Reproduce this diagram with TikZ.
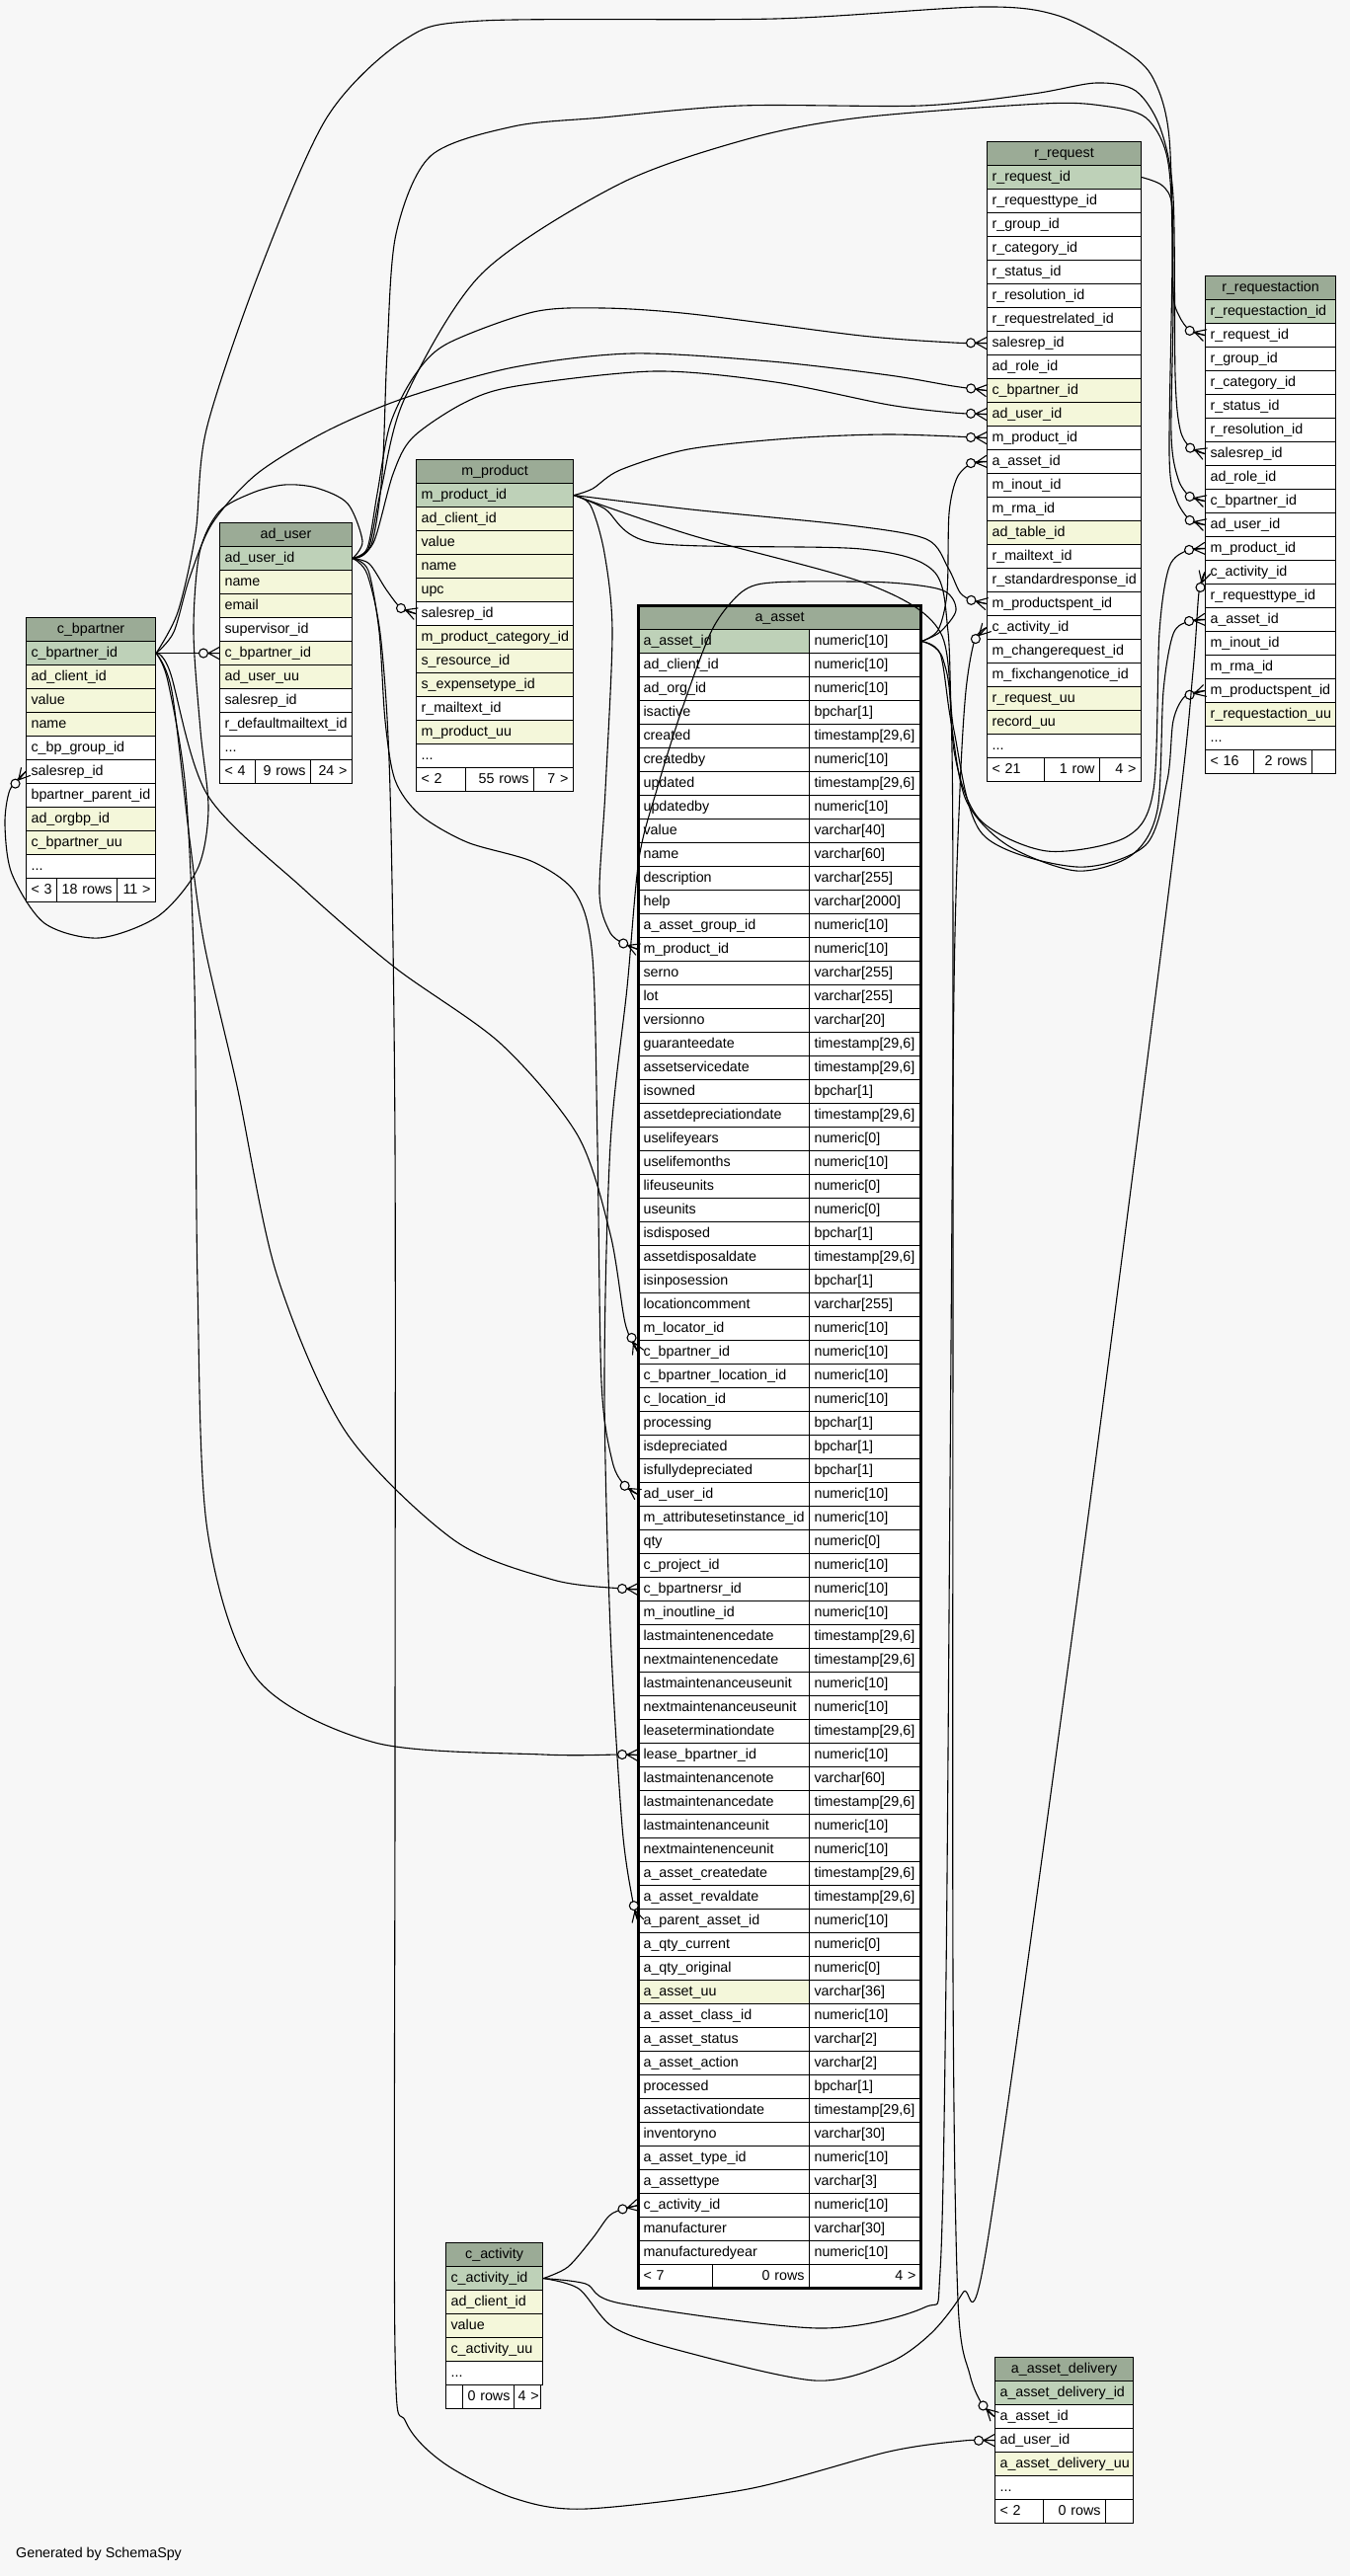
\documentclass[tikz,border=0pt]{standalone}
\usepackage{fontspec}
\setmainfont{Liberation Sans}
\usetikzlibrary{calc}
\definecolor{hdr}{HTML}{9BAB96}
\definecolor{pk}{HTML}{BED1B8}
\definecolor{idx}{HTML}{F4F7DA}
\definecolor{wh}{HTML}{FFFFFF}
\definecolor{bgc}{HTML}{F7F7F7}
\newcommand\tdots{...}
\newcommand\mktbl[6]{%
  \node[hcell, text width=#4pt] (#1h) at (#2,#3) {#5};
  \foreach \tx/\cl [count=\ri] in {#6}{%
    \node[cell, fill=\cl, text width=#4pt] (#1\ri) at (#2,{#3+24*\ri}) {\tx};}%
}
\newcommand\crowat[2]{%
  \draw[line width=1.1pt, line cap=round]
    ($(#1)!11pt!(#2)$) -- ($(#1)!6pt!90:(#2)$)
    ($(#1)!11pt!(#2)$) -- ($(#1)!6pt!-90:(#2)$)
    ($(#1)!11pt!(#2)$) -- (#1);
  \draw[line width=1.1pt, fill=bgc] ($(#1)!16pt!(#2)$) circle[radius=4.5pt];%
}
\tikzset{
  cell/.style={draw=black, line width=1.1pt, anchor=north west, inner xsep=5pt, inner ysep=0pt, minimum height=24pt, text height=10.5pt, text depth=3pt, font=\fontsize{14.3}{16}\selectfont, align=left},
  hcell/.style={cell, align=center, fill=hdr},
  lcell/.style={cell, fill=wh},
  rcell/.style={cell, align=right, fill=wh},
  edge/.style={line width=1.1pt, draw=black, line join=round}
}
\begin{document}
\begin{tikzpicture}[x=1pt,y=-1pt]
\useasboundingbox (0,0) rectangle (1367,2609);
\fill[bgc] (0,0) rectangle (1367,2609);

% c_bpartner
\mktbl{bp}{26}{625}{121}{c\_bpartner}{c\_bpartner\_id/pk, ad\_client\_id/idx, value/idx, name/idx, c\_bp\_group\_id/wh, salesrep\_id/wh, bpartner\_parent\_id/wh, ad\_orgbp\_id/idx, c\_bpartner\_uu/idx, \tdots/wh}
\node[lcell, text width=21pt] (bpf1) at (26,889) {\mbox{< 3}};
\node[rcell, text width=51pt] (bpf2) at (57,889) {\mbox{18 rows}};
\node[rcell, text width=29pt] (bpf3) at (118,889) {\mbox{11 >}};

% ad_user
\mktbl{au}{222}{529}{124}{ad\_user}{ad\_user\_id/pk, name/idx, email/idx, supervisor\_id/wh, c\_bpartner\_id/idx, ad\_user\_uu/idx, salesrep\_id/wh, r\_defaultmailtext\_id/wh, \tdots/wh}
\node[lcell, text width=26pt] (auf1) at (222,769) {\mbox{< 4}};
\node[rcell, text width=46pt] (auf2) at (258,769) {\mbox{9 rows}};
\node[rcell, text width=32pt] (auf3) at (314,769) {\mbox{24 >}};

% m_product
\mktbl{mp}{421}{465}{149}{m\_product}{m\_product\_id/pk, ad\_client\_id/idx, value/idx, name/idx, upc/idx, salesrep\_id/wh, m\_product\_category\_id/idx, s\_resource\_id/idx, s\_expensetype\_id/idx, r\_mailtext\_id/wh, m\_product\_uu/idx, \tdots/wh}
\node[lcell, text width=40pt] (mpf1) at (421,777) {\mbox{< 2}};
\node[rcell, text width=59pt] (mpf2) at (471,777) {\mbox{55 rows}};
\node[rcell, text width=30pt] (mpf3) at (540,777) {\mbox{7 >}};

% r_request
\mktbl{rr}{999}{143}{146}{r\_request}{r\_request\_id/pk, r\_requesttype\_id/wh, r\_group\_id/wh, r\_category\_id/wh, r\_status\_id/wh, r\_resolution\_id/wh, r\_requestrelated\_id/wh, salesrep\_id/wh, ad\_role\_id/wh, c\_bpartner\_id/idx, ad\_user\_id/idx, m\_product\_id/wh, a\_asset\_id/wh, m\_inout\_id/wh, m\_rma\_id/wh, ad\_table\_id/idx, r\_mailtext\_id/wh, r\_standardresponse\_id/wh, m\_productspent\_id/wh, c\_activity\_id/wh, m\_changerequest\_id/wh, m\_fixchangenotice\_id/wh, r\_request\_uu/idx, record\_uu/idx, \tdots/wh}
\node[lcell, text width=48pt] (rrf1) at (999,767) {\mbox{< 21}};
\node[rcell, text width=46pt] (rrf2) at (1057,767) {\mbox{1 row}};
\node[rcell, text width=32pt] (rrf3) at (1113,767) {\mbox{4 >}};

% r_requestaction
\mktbl{ra}{1220}{279}{122}{r\_requestaction}{r\_requestaction\_id/pk, r\_request\_id/wh, r\_group\_id/wh, r\_category\_id/wh, r\_status\_id/wh, r\_resolution\_id/wh, salesrep\_id/wh, ad\_role\_id/wh, c\_bpartner\_id/wh, ad\_user\_id/wh, m\_product\_id/wh, c\_activity\_id/wh, r\_requesttype\_id/wh, a\_asset\_id/wh, m\_inout\_id/wh, m\_rma\_id/wh, m\_productspent\_id/wh, r\_requestaction\_uu/idx, \tdots/wh}
\node[lcell, text width=39pt] (raf1) at (1220,759) {\mbox{< 16}};
\node[rcell, text width=49pt] (raf2) at (1269,759) {\mbox{2 rows}};
\node[rcell, text width=14pt] (raf3) at (1328,759) {};

% c_activity
\mktbl{ca}{451}{2271}{88}{c\_activity}{c\_activity\_id/pk, ad\_client\_id/idx, value/idx, c\_activity\_uu/idx, \tdots/wh}
\node[lcell, text width=7pt] (caf1) at (451,2415) {};
\node[rcell, text width=42pt] (caf2) at (468,2415) {\mbox{0 rows}};
\node[rcell, text width=19pt, inner xsep=4pt] (caf3) at (520,2415) {\mbox{4 >}};

% a_asset_delivery
\mktbl{ad}{1007}{2387}{130}{a\_asset\_delivery}{a\_asset\_delivery\_id/pk, a\_asset\_id/wh, ad\_user\_id/wh, a\_asset\_delivery\_uu/idx, \tdots/wh}
\node[lcell, text width=39pt] (adf1) at (1007,2531) {\mbox{< 2}};
\node[rcell, text width=53pt] (adf2) at (1056,2531) {\mbox{0 rows}};
\node[rcell, text width=18pt] (adf3) at (1119,2531) {};

% a_asset
\node[hcell, text width=276pt] (aah) at (646,613) {a\_asset};
\foreach \nm/\ty/\cl [count=\ri] in {
a\_asset\_id/numeric[10]/pk,
ad\_client\_id/numeric[10]/wh,
ad\_org\_id/numeric[10]/wh,
isactive/bpchar[1]/wh,
created/{timestamp[29,6]}/wh,
createdby/numeric[10]/wh,
updated/{timestamp[29,6]}/wh,
updatedby/numeric[10]/wh,
value/varchar[40]/wh,
name/varchar[60]/wh,
description/varchar[255]/wh,
help/varchar[2000]/wh,
a\_asset\_group\_id/numeric[10]/wh,
m\_product\_id/numeric[10]/wh,
serno/varchar[255]/wh,
lot/varchar[255]/wh,
versionno/varchar[20]/wh,
guaranteedate/{timestamp[29,6]}/wh,
assetservicedate/{timestamp[29,6]}/wh,
isowned/bpchar[1]/wh,
assetdepreciationdate/{timestamp[29,6]}/wh,
uselifeyears/numeric[0]/wh,
uselifemonths/numeric[10]/wh,
lifeuseunits/numeric[0]/wh,
useunits/numeric[0]/wh,
isdisposed/bpchar[1]/wh,
assetdisposaldate/{timestamp[29,6]}/wh,
isinposession/bpchar[1]/wh,
locationcomment/varchar[255]/wh,
m\_locator\_id/numeric[10]/wh,
c\_bpartner\_id/numeric[10]/wh,
c\_bpartner\_location\_id/numeric[10]/wh,
c\_location\_id/numeric[10]/wh,
processing/bpchar[1]/wh,
isdepreciated/bpchar[1]/wh,
isfullydepreciated/bpchar[1]/wh,
ad\_user\_id/numeric[10]/wh,
m\_attributesetinstance\_id/numeric[10]/wh,
qty/numeric[0]/wh,
c\_project\_id/numeric[10]/wh,
c\_bpartnersr\_id/numeric[10]/wh,
m\_inoutline\_id/numeric[10]/wh,
lastmaintenencedate/{timestamp[29,6]}/wh,
nextmaintenencedate/{timestamp[29,6]}/wh,
lastmaintenanceuseunit/numeric[10]/wh,
nextmaintenanceuseunit/numeric[10]/wh,
leaseterminationdate/{timestamp[29,6]}/wh,
lease\_bpartner\_id/numeric[10]/wh,
lastmaintenancenote/varchar[60]/wh,
lastmaintenancedate/{timestamp[29,6]}/wh,
lastmaintenanceunit/numeric[10]/wh,
nextmaintenenceunit/numeric[10]/wh,
a\_asset\_createdate/{timestamp[29,6]}/wh,
a\_asset\_revaldate/{timestamp[29,6]}/wh,
a\_parent\_asset\_id/numeric[10]/wh,
a\_qty\_current/numeric[0]/wh,
a\_qty\_original/numeric[0]/wh,
a\_asset\_uu/varchar[36]/idx,
a\_asset\_class\_id/numeric[10]/wh,
a\_asset\_status/varchar[2]/wh,
a\_asset\_action/varchar[2]/wh,
processed/bpchar[1]/wh,
assetactivationdate/{timestamp[29,6]}/wh,
inventoryno/varchar[30]/wh,
a\_asset\_type\_id/numeric[10]/wh,
a\_assettype/varchar[3]/wh,
c\_activity\_id/numeric[10]/wh,
manufacturer/varchar[30]/wh,
manufacturedyear/numeric[10]/wh}{%
  \node[cell, fill=\cl, text width=163pt] (aa\ri) at (646,{613+24*\ri}) {\nm};
  \node[cell, fill=wh, text width=103pt] (at\ri) at (819,{613+24*\ri}) {\ty};
}
\node[lcell, text width=65pt] (aaf1) at (646,2293) {\mbox{< 7}};
\node[rcell, text width=88pt] (aaf2) at (721,2293) {\mbox{0 rows}};
\node[rcell, text width=103pt] (aaf3) at (819,2293) {\mbox{4 >}};
\draw[line width=3pt] (646,613) rectangle (932,2317);

\node[anchor=west, inner sep=0pt, font=\fontsize{14.3}{16}\selectfont] (gen) at (16,2587) {Generated by SchemaSpy};

% ---------- connectors ----------
\draw[edge] (bp1.east) -- (au5.west); \crowat{au5.west}{bp1.east}
\draw[edge] plot[smooth] coordinates {(au1.east) (367,548) (352,510) (320,494) (288,491) (256,499) (222,518) (202,560) (196,640) (203,740) (211,820) (200,880) (160,928) (100,950) (45,935) (12,885) (5,835) (10,800) (bp6.west)}; \crowat{bp6.west}{10,800}
\draw[edge] plot[smooth] coordinates {(bp1.east) (176,640) (192,585) (215,530) (260,480) (330,437) (410,403) (520,372) (640,358) (780,366) (900,380) (965,391) (rr10.west)}; \crowat{rr10.west}{965,391}
\draw[edge] plot[smooth] coordinates {(bp1.east) (180,620) (198,540) (209,435) (262,277) (331,119) (410,40) (488,21) (785,19) (994,7) (1072,16) (1140,52) (1168,80) (1184,140) (1188,300) (1186,440) (1193,485) (1205,503) (ra9.west)}; \crowat{ra9.west}{1205,503}
\draw[edge] plot[smooth] coordinates {(au1.east) (376,552) (387,480) (392,356) (401,237) (436,158) (520,128) (610,119) (750,107) (933,107) (1046,95) (1110,84) (1150,92) (1175,130) (1188,200) (1190,380) (1195,435) (1206,454) (ra7.west)}; \crowat{ra7.west}{1206,454}
\draw[edge] plot[smooth] coordinates {(au1.east) (373,556) (386,495) (410,403) (488,277) (628,186) (760,140) (872,119) (1055,105) (1116,107) (1160,119) (1182,160) (1187,250) (1184,460) (1191,505) (1205,527) (ra10.west)}; \crowat{ra10.west}{1205,527}
\draw[edge] plot[smooth] coordinates {(au1.east) (372,555) (382,500) (395,430) (420,380) (453,348) (540,316) (610,312) (700,318) (872,340) (965,347) (rr8.west)}; \crowat{rr8.west}{965,347}
\draw[edge] plot[smooth] coordinates {(au1.east) (378,550) (398,480) (418,443) (470,408) (523,391) (663,376) (785,387) (900,410) (965,418) (rr11.west)}; \crowat{rr11.west}{965,418}
\draw[edge] plot[smooth] coordinates {(au1.east) (374,571) (391,597) (406,616) (mp6.west)}; \crowat{mp6.west}{406,616}
\draw[edge] plot[smooth] coordinates {(au1.east) (373,578) (384,640) (390,730) (400,790) (425,825) (473,853) (540,873) (583,905) (600,970) (605,1160) (609,1400) (620,1480) (633,1505) (aa37.west)}; \crowat{aa37.west}{633,1505}
\draw[edge] plot[smooth] coordinates {(au1.east) (372,582) (386,650) (395,800) (400,1160) (400,1800) (400,2380) (411,2453) (450,2495) (520,2530) (593,2541) (757,2521) (900,2483) (975,2472) (ad3.west)}; \crowat{ad3.west}{975,2472}
\draw[edge] plot[smooth] coordinates {(bp1.east) (172,680) (210,805) (307,900) (400,980) (507,1057) (585,1150) (618,1250) (633,1340) (aa31.west)}; \crowat{aa31.west}{633,1340}
\draw[edge] plot[smooth] coordinates {(bp1.east) (174,700) (192,850) (207,957) (240,1100) (280,1290) (350,1450) (460,1560) (560,1600) (630,1609) (aa41.west)}; \crowat{aa41.west}{630,1609}
\draw[edge] plot[smooth] coordinates {(bp1.east) (170,690) (188,800) (197,1000) (200,1300) (210,1550) (260,1700) (380,1765) (550,1777) (630,1777) (aa48.west)}; \crowat{aa48.west}{630,1777}
\draw[edge] plot[smooth] coordinates {(mp1.east) (600,495) (628,476) (697,455) (800,444) (900,440) (rr12.west)}; \crowat{rr12.west}{900,440}
\draw[edge] plot[smooth] coordinates {(mp1.east) (700,516) (860,532) (938,546) (960,575) (972,600) (984,608) (rr19.west)}; \crowat{rr19.west}{984,608}
\draw[edge] plot[smooth] coordinates {(mp1.east) (598,512) (612,560) (620,640) (613,800) (607,905) (617,943) (630,955) (aa14.west)}; \crowat{aa14.west}{630,955}
\draw[edge] plot[smooth] coordinates {(mp1.east) (612,515) (663,550) (872,556) (945,578) (960,640) (966,760) (992,830) (1060,862) (1140,848) (1168,800) (1174,640) (1184,574) (1203,557) (ra11.west)}; \crowat{ra11.west}{1203,557}
\draw[edge] plot[smooth] coordinates {(mp1.east) (700,542) (880,592) (952,640) (966,740) (995,845) (1090,878) (1160,856) (1182,790) (1188,730) (1200,705) (ra17.west)}; \crowat{ra17.west}{1200,705}
\draw[edge] plot[smooth] coordinates {(at1.east) (950,638) (959,600) (961,520) (969,484) (984,469) (rr13.west)}; \crowat{rr13.west}{984,469}
\draw[edge] plot[smooth] coordinates {(at1.east) (952,662) (962,725) (978,810) (1020,856) (1090,882) (1146,866) (1172,820) (1178,700) (1188,642) (1204,629) (ra14.west)}; \crowat{ra14.west}{1204,629}
\draw[edge] plot[smooth] coordinates {(at1.east) (955,668) (964,760) (965,1200) (965,2000) (970,2330) (982,2405) (995,2436) (ad2.west)}; \crowat{ad2.west}{995,2436}
\draw[edge] plot[smooth] coordinates {(at1.east) (952,640) (968,618) (955,598) (900,590) (811,589) (767,592) (745,605) (720,640) (690,720) (665,800) (647,870) (635,1000) (618,1160) (612,1400) (618,1650) (630,1850) (641,1927) (aa55.west)}; \crowat{aa55.west}{641,1927}
\draw[edge] plot[smooth] coordinates {(ca1.east) (575,2296) (600,2267) (617,2244) (632,2237) (aa67.west)}; \crowat{aa67.west}{632,2237}
\draw[edge] plot[smooth] coordinates {(ca1.east) (593,2313) (629,2333) (829,2358) (936,2337) (952,2300) (958,2000) (962,1500) (966,1000) (972,800) (978,700) (987,648) (rr20.west)}; \crowat{rr20.west}{987,648}
\draw[edge] plot[smooth] coordinates {(ca1.east) (586,2318) (621,2357) (686,2380) (825,2411) (900,2393) (943,2363) (975,2322) (1000,2270) (1100,1550) (1190,850) (1208,680) (1214,600) (ra12.west)}; \crowat{ra12.west}{1214,600}
\draw[edge] plot[smooth] coordinates {(rr1.east) (1177,188) (1187,210) (1188,297) (1194,320) (1205,335) (ra2.west)}; \crowat{ra2.west}{1205,335}
\end{tikzpicture}
\end{document}
